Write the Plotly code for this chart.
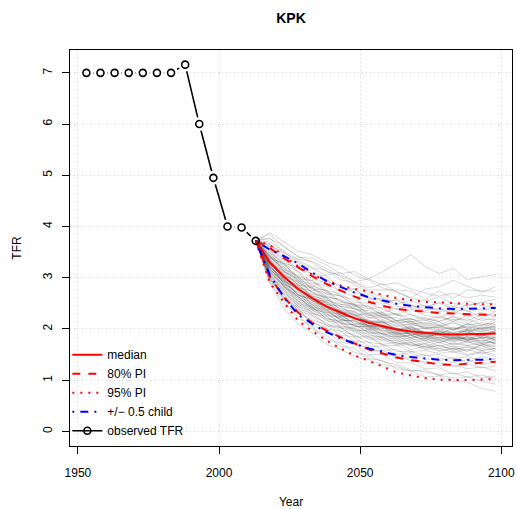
import plotly.graph_objects as go

# ---------------- data ----------------
obs_years = [1953, 1958, 1963, 1968, 1973, 1978, 1983, 1988, 1993, 1998, 2003, 2008, 2013]
obs_tfr = [7.00, 7.00, 7.00, 7.00, 7.00, 7.00, 7.00, 7.16, 6.00, 4.95, 4.00, 3.98, 3.72]

proj_years = [2013, 2018, 2023, 2028, 2033, 2038, 2043, 2048, 2053, 2058,
              2063, 2068, 2073, 2078, 2083, 2088, 2093, 2098]

median = [3.72, 3.30, 3.02, 2.78, 2.60, 2.44, 2.32, 2.21, 2.12, 2.05,
          1.99, 1.95, 1.92, 1.90, 1.89, 1.89, 1.90, 1.91]
pi80_up = [3.72, 3.58, 3.38, 3.20, 3.03, 2.88, 2.76, 2.63, 2.53, 2.45,
           2.39, 2.36, 2.34, 2.31, 2.30, 2.29, 2.28, 2.27]
pi80_lo = [3.72, 3.02, 2.62, 2.32, 2.12, 1.97, 1.84, 1.72, 1.60, 1.52,
           1.44, 1.39, 1.35, 1.31, 1.30, 1.32, 1.34, 1.36]
pi95_up = [3.72, 3.64, 3.42, 3.22, 3.06, 2.94, 2.85, 2.78, 2.73, 2.66,
           2.60, 2.56, 2.53, 2.52, 2.50, 2.49, 2.48, 2.48]
pi95_lo = [3.72, 2.90, 2.52, 2.16, 1.96, 1.78, 1.62, 1.48, 1.38, 1.26,
           1.15, 1.09, 1.04, 1.01, 1.00, 1.00, 1.01, 1.02]
half_up = [3.72, 3.55, 3.42, 3.28, 3.10, 2.94, 2.82, 2.71, 2.62, 2.55,
           2.49, 2.45, 2.42, 2.40, 2.39, 2.39, 2.40, 2.41]
half_lo = [3.72, 3.05, 2.62, 2.28, 2.10, 1.94, 1.82, 1.71, 1.62, 1.55,
           1.49, 1.45, 1.42, 1.40, 1.39, 1.39, 1.40, 1.41]

trajectories = [
    [3.72, 3.85, 3.60, 3.42, 3.30, 3.12, 3.05, 2.92, 2.98, 3.12, 3.28, 3.45, 3.22, 3.08, 3.18, 2.96, 3.02, 3.06],
    [3.72, 3.62, 3.50, 3.30, 3.18, 3.05, 3.10, 2.92, 2.80, 2.88, 2.72, 2.60, 2.78, 2.82, 2.95, 2.84, 2.72, 2.82],
    [3.72, 3.55, 3.28, 3.20, 2.98, 2.90, 2.72, 2.78, 2.60, 2.48, 2.58, 2.46, 2.40, 2.52, 2.44, 2.55, 2.45, 2.42],
    [3.72, 3.42, 3.25, 3.02, 2.95, 2.75, 2.68, 2.52, 2.50, 2.38, 2.28, 2.38, 2.26, 2.22, 2.35, 2.24, 2.32, 2.26],
    [3.72, 3.38, 3.28, 2.95, 2.88, 2.68, 2.65, 2.48, 2.45, 2.32, 2.40, 2.28, 2.20, 2.15, 2.24, 2.12, 2.20, 2.18],
    [3.72, 3.30, 3.12, 2.86, 2.80, 2.56, 2.48, 2.42, 2.26, 2.28, 2.15, 2.14, 2.06, 2.08, 1.98, 2.10, 2.02, 2.04],
    [3.72, 3.28, 3.00, 2.84, 2.58, 2.54, 2.34, 2.28, 2.14, 2.12, 1.98, 2.02, 1.92, 1.94, 1.88, 1.98, 1.88, 1.92],
    [3.72, 3.20, 2.98, 2.66, 2.58, 2.36, 2.28, 2.10, 2.08, 1.94, 1.92, 1.82, 1.86, 1.74, 1.82, 1.74, 1.78, 1.72],
    [3.72, 3.12, 2.82, 2.64, 2.38, 2.32, 2.10, 2.08, 1.92, 1.90, 1.76, 1.78, 1.66, 1.74, 1.64, 1.68, 1.62, 1.68],
    [3.72, 3.05, 2.75, 2.44, 2.34, 2.08, 2.04, 1.84, 1.84, 1.68, 1.68, 1.56, 1.58, 1.52, 1.56, 1.48, 1.54, 1.46],
    [3.72, 2.98, 2.58, 2.38, 2.12, 2.02, 1.80, 1.76, 1.58, 1.58, 1.42, 1.44, 1.32, 1.34, 1.26, 1.32, 1.24, 1.28],
    [3.72, 2.92, 2.48, 2.28, 2.00, 1.88, 1.66, 1.62, 1.42, 1.38, 1.22, 1.18, 1.06, 1.08, 0.98, 0.96, 0.84, 0.78],
    [3.72, 3.40, 3.10, 2.86, 2.64, 2.58, 2.44, 2.40, 2.22, 2.24, 2.08, 2.08, 2.04, 2.02, 1.92, 2.00, 1.98, 2.08],
    [3.72, 3.26, 3.04, 2.80, 2.74, 2.48, 2.44, 2.26, 2.30, 2.12, 2.16, 1.98, 2.02, 2.02, 2.14, 2.00, 2.00, 1.92],
    [3.72, 3.24, 2.94, 2.78, 2.54, 2.48, 2.26, 2.22, 2.06, 2.06, 1.92, 2.02, 1.88, 1.88, 1.78, 1.92, 1.88, 1.88],
    [3.72, 3.50, 3.12, 3.00, 2.68, 2.62, 2.38, 2.34, 2.16, 2.16, 2.04, 2.06, 1.92, 1.96, 1.94, 1.96, 1.82, 1.86],
    [3.72, 3.34, 2.94, 2.76, 2.46, 2.40, 2.18, 2.16, 2.04, 2.04, 1.88, 1.92, 1.82, 1.92, 1.80, 1.84, 1.80, 1.94],
    [3.72, 3.16, 2.92, 2.62, 2.52, 2.28, 2.24, 2.06, 2.04, 1.88, 1.90, 1.78, 1.82, 1.72, 1.82, 1.78, 1.82, 1.70],
    [3.72, 3.44, 3.16, 3.04, 2.76, 2.70, 2.48, 2.46, 2.30, 2.32, 2.16, 2.20, 2.08, 2.14, 2.00, 2.04, 2.00, 2.14],
    [3.72, 3.28, 2.88, 2.72, 2.48, 2.42, 2.24, 2.24, 2.06, 2.08, 1.96, 1.98, 1.86, 1.90, 1.86, 1.98, 1.94, 2.00],
    [3.72, 3.10, 2.84, 2.50, 2.42, 2.20, 2.16, 1.98, 1.96, 1.80, 1.82, 1.68, 1.72, 1.62, 1.66, 1.56, 1.68, 1.56],
    [3.72, 3.54, 3.20, 3.02, 2.78, 2.76, 2.54, 2.48, 2.28, 2.26, 2.10, 2.16, 2.00, 2.04, 1.98, 2.10, 2.06, 2.18],
    [3.72, 3.18, 2.90, 2.58, 2.48, 2.26, 2.22, 2.04, 2.06, 1.90, 1.94, 1.82, 1.92, 1.88, 1.90, 1.78, 1.84, 1.80],
    [3.72, 3.38, 3.04, 2.92, 2.62, 2.52, 2.32, 2.28, 2.10, 2.14, 2.00, 2.04, 1.92, 1.96, 1.84, 1.90, 1.86, 1.98],
    [3.72, 3.02, 2.74, 2.40, 2.30, 2.06, 2.02, 1.86, 1.86, 1.70, 1.74, 1.60, 1.66, 1.56, 1.62, 1.50, 1.56, 1.50],
    [3.72, 3.60, 3.32, 3.14, 2.90, 2.84, 2.64, 2.58, 2.40, 2.42, 2.26, 2.28, 2.16, 2.26, 2.14, 2.28, 2.16, 2.22],
    [3.72, 3.22, 2.96, 2.66, 2.60, 2.38, 2.36, 2.18, 2.18, 2.02, 2.02, 1.88, 1.90, 1.78, 1.84, 1.80, 1.90, 1.78],
    [3.72, 3.12, 2.86, 2.54, 2.44, 2.20, 2.14, 1.96, 1.98, 1.84, 1.86, 1.74, 1.78, 1.66, 1.72, 1.68, 1.72, 1.60],
    [3.72, 3.36, 3.00, 2.80, 2.54, 2.44, 2.22, 2.18, 2.02, 2.02, 1.90, 1.94, 1.82, 1.88, 1.82, 1.94, 1.84, 1.96],
    [3.72, 3.48, 3.28, 2.98, 2.94, 2.72, 2.64, 2.46, 2.44, 2.26, 2.28, 2.14, 2.18, 2.08, 2.18, 2.08, 2.12, 2.08],
    [3.72, 3.00, 2.60, 2.42, 2.06, 1.96, 1.74, 1.70, 1.50, 1.50, 1.34, 1.34, 1.22, 1.24, 1.12, 1.16, 1.04, 1.08],
    [3.72, 3.78, 3.48, 3.34, 3.20, 3.14, 2.96, 2.90, 2.76, 2.76, 2.76, 2.74, 2.58, 2.74, 2.60, 2.76, 2.74, 2.74],
    [3.72, 3.32, 3.06, 2.88, 2.60, 2.50, 2.26, 2.22, 2.04, 2.04, 1.90, 1.94, 1.84, 1.90, 1.78, 1.82, 1.72, 1.76],
    [3.72, 3.14, 2.94, 2.66, 2.56, 2.32, 2.28, 2.10, 2.10, 1.96, 2.00, 1.88, 1.94, 1.90, 2.02, 1.92, 2.04, 1.98],
    [3.72, 3.42, 3.12, 2.96, 2.70, 2.60, 2.36, 2.32, 2.14, 2.14, 1.98, 2.00, 1.88, 1.92, 1.82, 1.84, 1.74, 1.84],
    [3.72, 3.06, 2.78, 2.48, 2.38, 2.16, 2.12, 1.92, 1.92, 1.76, 1.78, 1.66, 1.70, 1.58, 1.62, 1.58, 1.70, 1.66],
    [3.72, 3.52, 3.26, 3.12, 2.84, 2.74, 2.52, 2.48, 2.32, 2.30, 2.16, 2.20, 2.10, 2.22, 2.18, 2.20, 2.08, 2.12],
    [3.72, 3.24, 2.88, 2.70, 2.42, 2.38, 2.16, 2.16, 2.00, 2.00, 1.86, 1.88, 1.76, 1.80, 1.68, 1.74, 1.68, 1.80],
    [3.72, 2.96, 2.68, 2.36, 2.26, 2.00, 1.96, 1.76, 1.74, 1.58, 1.60, 1.46, 1.50, 1.38, 1.44, 1.34, 1.46, 1.40],
    [3.72, 3.64, 3.38, 3.10, 2.82, 2.98, 2.72, 2.64, 2.62, 2.54, 2.38, 2.48, 2.32, 2.34, 2.36, 2.36, 2.22, 2.34],
    [3.72, 3.70, 3.52, 3.36, 3.32, 3.18, 3.02, 2.86, 2.72, 2.62, 2.48, 2.56, 2.44, 2.50, 2.40, 2.46, 2.52, 2.58],
    [3.72, 3.26, 2.86, 2.64, 2.40, 2.34, 2.20, 2.06, 2.00, 1.90, 1.84, 1.86, 1.80, 1.84, 1.76, 1.78, 1.72, 1.74],
    [3.72, 3.20, 2.82, 2.60, 2.36, 2.26, 2.06, 2.02, 1.88, 1.84, 1.72, 1.72, 1.64, 1.68, 1.60, 1.64, 1.58, 1.62],
    [3.72, 3.30, 2.96, 2.74, 2.50, 2.46, 2.30, 2.26, 2.12, 2.10, 1.96, 1.98, 1.90, 1.94, 1.92, 1.86, 1.94, 1.90],
    [3.72, 3.36, 3.08, 2.84, 2.66, 2.54, 2.40, 2.34, 2.22, 2.18, 2.06, 2.10, 2.00, 1.98, 2.04, 1.98, 1.96, 2.02],
    [3.72, 3.14, 2.80, 2.56, 2.32, 2.18, 2.02, 1.96, 1.80, 1.80, 1.68, 1.70, 1.60, 1.62, 1.54, 1.60, 1.52, 1.58],
    [3.72, 3.46, 3.22, 2.94, 2.82, 2.64, 2.56, 2.38, 2.36, 2.22, 2.22, 2.10, 2.12, 2.06, 2.12, 2.02, 2.08, 2.04],
    [3.72, 3.08, 2.70, 2.50, 2.26, 2.12, 1.96, 1.88, 1.74, 1.70, 1.56, 1.56, 1.48, 1.50, 1.42, 1.46, 1.38, 1.42],
    [3.72, 3.40, 3.18, 2.90, 2.80, 2.62, 2.58, 2.44, 2.40, 2.28, 2.30, 2.18, 2.22, 2.14, 2.24, 2.16, 2.28, 2.24],
    [3.72, 3.22, 2.92, 2.68, 2.44, 2.36, 2.18, 2.14, 1.98, 1.98, 1.84, 1.88, 1.78, 1.84, 1.74, 1.86, 1.76, 1.84],
    [3.72, 3.04, 2.66, 2.46, 2.18, 2.08, 1.88, 1.84, 1.66, 1.66, 1.50, 1.54, 1.40, 1.44, 1.34, 1.40, 1.30, 1.36],
    [3.72, 3.34, 3.04, 2.78, 2.64, 2.44, 2.36, 2.20, 2.16, 2.02, 2.00, 1.90, 1.92, 1.82, 1.90, 1.80, 1.88, 1.82],
    [3.72, 3.56, 3.36, 3.18, 3.08, 2.92, 2.86, 2.70, 2.68, 2.54, 2.56, 2.42, 2.46, 2.36, 2.44, 2.34, 2.40, 2.34],
    [3.72, 3.18, 2.84, 2.62, 2.40, 2.30, 2.12, 2.08, 1.94, 1.92, 1.80, 1.82, 1.72, 1.78, 1.70, 1.76, 1.66, 1.72],
    [3.72, 3.28, 2.98, 2.76, 2.56, 2.42, 2.28, 2.20, 2.06, 2.04, 1.94, 1.90, 1.86, 1.80, 1.86, 1.78, 1.84, 1.78],
    [3.72, 3.10, 2.76, 2.54, 2.30, 2.24, 2.04, 2.00, 1.84, 1.84, 1.70, 1.74, 1.62, 1.68, 1.58, 1.66, 1.58, 1.62],
    [3.72, 3.44, 3.14, 2.92, 2.72, 2.62, 2.44, 2.40, 2.26, 2.22, 2.12, 2.12, 2.02, 2.06, 1.98, 2.06, 2.00, 2.04],
    [3.72, 3.32, 3.02, 2.82, 2.60, 2.52, 2.34, 2.30, 2.14, 2.14, 2.00, 2.04, 1.94, 1.98, 1.90, 1.96, 1.88, 1.96],
    [3.72, 3.00, 2.62, 2.34, 2.16, 1.96, 1.86, 1.70, 1.64, 1.52, 1.48, 1.38, 1.36, 1.28, 1.30, 1.22, 1.26, 1.18],
    [3.72, 3.66, 3.44, 3.28, 3.06, 3.04, 2.80, 2.78, 2.58, 2.60, 2.44, 2.40, 2.36, 2.40, 2.30, 2.42, 2.36, 2.44],
    [3.72, 3.88, 3.70, 3.52, 3.45, 3.30, 3.22, 3.05, 2.95, 2.80, 2.72, 2.60, 2.55, 2.62, 2.50, 2.45, 2.52, 2.48],
    [3.72, 3.76, 3.62, 3.40, 3.38, 3.25, 3.08, 3.12, 2.98, 2.86, 2.90, 2.78, 2.70, 2.64, 2.70, 2.60, 2.66, 2.62],
    [3.72, 2.88, 2.40, 2.10, 1.92, 1.70, 1.60, 1.46, 1.40, 1.30, 1.26, 1.18, 1.20, 1.10, 1.14, 1.06, 1.10, 1.02],
    [3.72, 2.94, 2.56, 2.22, 2.04, 1.80, 1.72, 1.54, 1.48, 1.36, 1.30, 1.20, 1.16, 1.10, 1.04, 1.06, 0.98, 0.92],
]

x_ticks = [1950, 2000, 2050, 2100]
y_ticks = [0, 1, 2, 3, 4, 5, 6, 7]

title_text = "KPK"
x_title = "Year"
y_title = "TFR"

# ---------------- styles ----------------
FONT = "Liberation Sans, Arial, Helvetica, sans-serif"
RED = "#FF0000"
BLUE = "#0000FF"
DASH = "8px,8px"
DOT = "2px,6px"
DOTDASH = "2px,6px,8px,6px"

fig = go.Figure()

# observed line (gaps around points via white halo markers)
fig.add_trace(go.Scatter(x=obs_years, y=obs_tfr, mode="lines",
                         line=dict(color="black", width=1.6),
                         showlegend=False, hoverinfo="skip"))
fig.add_trace(go.Scatter(x=obs_years, y=obs_tfr, mode="markers",
                         marker=dict(color="white", size=14, line=dict(width=0)),
                         showlegend=False, hoverinfo="skip"))

# trajectories
for tr in trajectories:
    fig.add_trace(go.Scatter(x=proj_years, y=tr, mode="lines",
                             line=dict(color="rgba(0,0,0,0.16)", width=1),
                             showlegend=False, hoverinfo="skip"))

# PIs
def add_line(y, name, color, dash, show, rank):
    fig.add_trace(go.Scatter(x=proj_years, y=y, mode="lines", name=name,
                             legendgroup=name, showlegend=show, legendrank=rank,
                             line=dict(color=color, width=2, dash=dash)))

add_line(pi95_up, "95% PI", RED, DOT, True, 3)
add_line(pi95_lo, "95% PI", RED, DOT, False, 3)
add_line(pi80_up, "80% PI", RED, DASH, True, 2)
add_line(pi80_lo, "80% PI", RED, DASH, False, 2)
add_line(half_up, "+/\u2212 0.5 child", BLUE, DOTDASH, True, 4)
add_line(half_lo, "+/\u2212 0.5 child", BLUE, DOTDASH, False, 4)
add_line(median, "median", RED, "solid", True, 1)

# observed points (open circles)
fig.add_trace(go.Scatter(x=obs_years, y=obs_tfr, mode="markers",
                         marker=dict(symbol="circle-open", color="black", size=7,
                                     line=dict(width=1.6)),
                         showlegend=False))
# legend entry for observed
fig.add_trace(go.Scatter(x=[None], y=[None], mode="lines+markers", name="observed TFR",
                         legendrank=5,
                         line=dict(color="black", width=1.6),
                         marker=dict(symbol="circle-open", color="black", size=7,
                                     line=dict(width=1.6))))

axis_common = dict(
    showline=True, mirror=True, linecolor="black", linewidth=1,
    ticks="outside", ticklen=7, tickcolor="black", tickwidth=1,
    showgrid=True, gridcolor="#d3d3d3", griddash="1px,3px", gridwidth=1,
    zeroline=False, tickfont=dict(family=FONT, size=12, color="black"),
    automargin=False,
)

fig.update_layout(
    width=517, height=509,
    margin=dict(l=70, r=5, t=50, b=63),
    paper_bgcolor="white", plot_bgcolor="white",
    font=dict(family=FONT, size=12, color="black"),
    title=dict(text="<b>" + title_text + "</b>", x=0.5, xref="paper",
               y=1 - 18 / 509, yref="container", yanchor="middle",
               font=dict(family=FONT, size=14, color="black")),
    xaxis=dict(range=[1947.2, 2103.8], tickvals=x_ticks, ticklabelstandoff=9,
               title=dict(text=x_title, standoff=20, font=dict(family=FONT, size=12)),
               **axis_common),
    yaxis=dict(range=[-0.286, 7.446], tickvals=y_ticks, tickangle=-90, ticklabelstandoff=5,
               title=dict(text=y_title, standoff=17, font=dict(family=FONT, size=12)),
               **axis_common),
    legend=dict(x=-0.006, xanchor="left", y=0.002, yanchor="bottom",
                bgcolor="rgba(0,0,0,0)", borderwidth=0,
                font=dict(family=FONT, size=12, color="black"),
                itemwidth=30, traceorder="normal"),
)

fig.write_html("out.html")
